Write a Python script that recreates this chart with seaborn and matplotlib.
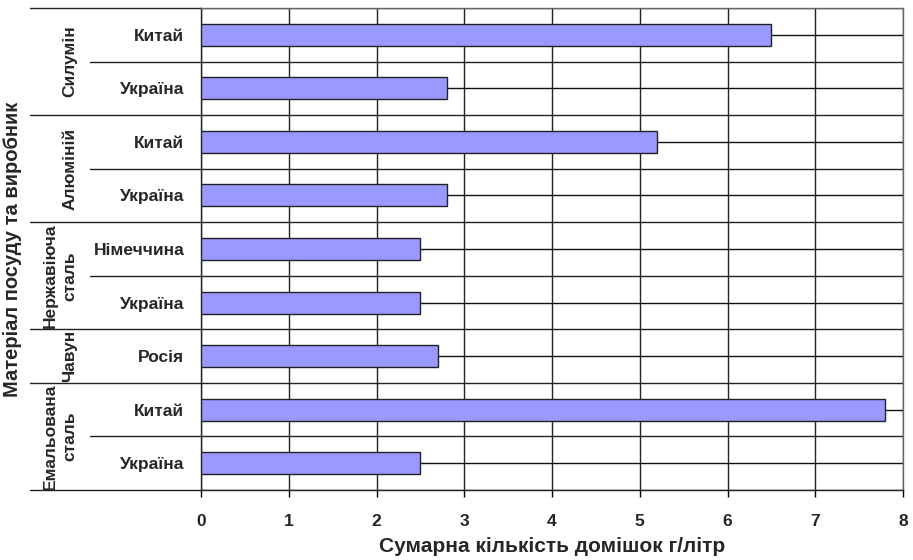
import matplotlib
matplotlib.use("Agg")
import matplotlib.pyplot as plt
import matplotlib.transforms as mtransforms
import seaborn as sns
import pandas as pd

materials = ["Силумін", "Силумін", "Алюміній", "Алюміній", "Нержавіюча\nсталь",
             "Нержавіюча\nсталь", "Чавун", "Емальована\nсталь", "Емальована\nсталь"]
producers = ["Китай", "Україна", "Китай", "Україна", "Німеччина",
             "Україна", "Росія", "Китай", "Україна"]
values = [6.5, 2.8, 5.2, 2.8, 2.5, 2.5, 2.7, 7.8, 2.5]
x_ticks = [0, 1, 2, 3, 4, 5, 6, 7, 8]

sns.set_theme(style="white")
plt.rcParams['font.family'] = ['Liberation Sans', 'DejaVu Sans']

df = pd.DataFrame({
    "row": [f"{m}|{p}|{i}" for i, (m, p) in enumerate(zip(materials, producers))],
    "value": values,
})

fig = plt.figure(figsize=(9.13, 5.60), dpi=100)
ax = fig.add_axes([201/913, 1 - 490/560, 702/913, 482/560])

sns.barplot(data=df, y="row", x="value", orient="h", ax=ax, color="#9999FF",
            saturation=1, width=0.41, edgecolor="#222222", linewidth=1.0, zorder=3)

n = len(producers)
ax.set_xlim(0, 8)
ax.set_ylim(n - 0.5, -0.5)
ax.set_xticks(x_ticks)
ax.set_xticklabels([str(t) for t in x_ticks], fontsize=12.5, fontweight="bold")
ax.set_yticks(range(n))
ax.set_yticklabels(producers, fontsize=12.5, fontweight="bold")
ax.set_yticks([i - 0.5 for i in range(n + 1)], minor=True)

ax.tick_params(axis="y", which="major", length=0, pad=12)
ax.tick_params(axis="y", which="minor", length=0)
ax.tick_params(axis="x", which="major", direction="out", length=5, width=1,
               color="black", pad=12, bottom=True)

ax.grid(True, axis="x", which="major", color="#222222", linewidth=1.0, zorder=0)
ax.grid(True, axis="y", which="major", color="#111111", linewidth=1.0, zorder=0)
ax.grid(True, axis="y", which="minor", color="#222222", linewidth=1.0, zorder=0)
ax.set_axisbelow(True)

for s in ["top", "right"]:
    ax.spines[s].set_visible(True)
    ax.spines[s].set_color("#666666")
    ax.spines[s].set_linewidth(1.0)
for s in ["left", "bottom"]:
    ax.spines[s].set_color("#222222")
    ax.spines[s].set_linewidth(1.0)

ax.set_xlabel("Сумарна кількість домішок г/літр", fontsize=15, fontweight="bold",
              labelpad=6)
ax.set_ylabel("")

# hierarchical category labels
trans = mtransforms.blended_transform_factory(ax.transAxes, ax.transData)
group_x = (30 - 201) / 702
inner_x = (90 - 201) / 702

groups = []
start = 0
for i in range(1, n + 1):
    if i == n or materials[i] != materials[start]:
        groups.append((materials[start], start, i - 1))
        start = i

for i in range(n + 1):
    b = i - 0.5
    is_group = i == 0 or i == n or any(b == g[1] - 0.5 for g in groups)
    x0 = group_x if is_group else inner_x
    ax.plot([x0, 0], [b, b], transform=trans, color="#222222", linewidth=1.0,
            clip_on=False)

for name, a, b in groups:
    px = 60 if "\n" in name else 70
    ax.text((px - 201) / 702, (a + b) / 2, name, transform=trans, rotation=90,
            ha="center", va="center", fontsize=12.5, fontweight="bold",
            linespacing=1.35, multialignment="center")

fig.text(13 / 913, 1 - 249 / 560, "Матеріал посуду та виробник", rotation=90,
         ha="center", va="center", fontsize=14.5, fontweight="bold")

fig.savefig("out.png", dpi=100)
